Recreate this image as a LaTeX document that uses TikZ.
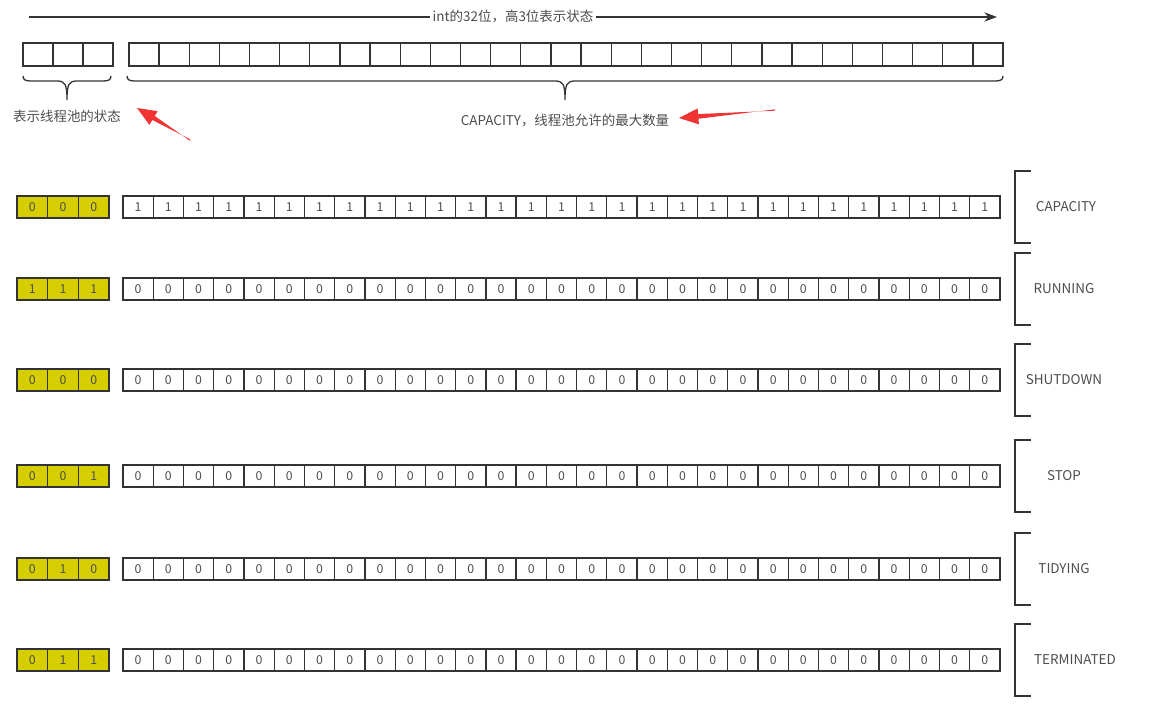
\documentclass[tikz,border=0pt]{standalone}
\usepackage{fontspec}
\setmainfont{Noto Sans CJK SC}
\usetikzlibrary{arrows.meta, calc}
\definecolor{linec}{HTML}{333333}
\definecolor{textc}{HTML}{4D4D4D}
\definecolor{bitfill}{RGB}{214,206,0}
\definecolor{markred}{RGB}{240,52,52}
\tikzset{
  cell/.style={draw=linec, line width=1.1pt, inner sep=0pt, text=textc,
    minimum width=0.907cm, minimum height=0.66cm, font=\fontsize{10.5}{12}\selectfont},
  hcell/.style={cell, fill=bitfill, minimum width=0.92cm},
  tcell/.style={cell, minimum width=0.904cm, minimum height=0.69cm},
  note/.style={text=textc, inner sep=1pt, font=\fontsize{11.5}{13}\selectfont},
  state/.style={note},
  bracket/.style={draw=linec, line width=1.6pt},
  brace/.style={draw=linec, line width=1.1pt},
  toparrow/.style={draw=linec, line width=1pt, -{Stealth[length=0.38cm, width=0.28cm]}},
  pointer/.style={fill=markred},
}
% brace below the cells, from x=#1 to x=#2
\newcommand{\bracebelow}[2]{%
  \draw[brace] (#1,76) .. controls (#1,80) and (#1+3,81) .. (#1+8,81)
    -- ({(#1+#2)/2-10},81) .. controls ({(#1+#2)/2-2},81) and ({(#1+#2)/2},84) .. ({(#1+#2)/2},100)
    .. controls ({(#1+#2)/2},84) and ({(#1+#2)/2+2},81) .. ({(#1+#2)/2+10},81)
    -- (#2-8,81) .. controls (#2-3,81) and (#2,80) .. (#2,76);}
% tapered red pointer from #1 (tail) to #2 (tip)
\newcommand{\redpointer}[2]{%
  \path (#2) coordinate (ph) ($(#2)!0.58cm!(#1)$) coordinate (pb);
  \fill[pointer] ($(#1)!0.02cm!90:(ph)$) -- ($(pb)!0.07cm!-90:(ph)$) -- ($(pb)!0.24cm!-90:(ph)$)
    -- (ph) -- ($(pb)!0.24cm!90:(ph)$) -- ($(pb)!0.07cm!90:(ph)$) -- ($(#1)!0.02cm!-90:(ph)$) -- cycle;}

\begin{document}
\begin{tikzpicture}[x=0.03cm, y=-0.03cm]
  \useasboundingbox (0,0) rectangle (1156,705);

  % 32 bits of the int
  \coordinate (a0) at (29,17);
  \coordinate (a1) at (997,17);
  \draw[toparrow] (a0) -- node[note, fill=white, inner sep=2pt] (title) {int的32位，高3位表示状态} (a1);

  \foreach \i in {0,...,2}
    \node[tcell] (th\i) at ({23+30*(\i+0.5)},54.5) {};
  \foreach \j in {0,...,28}
    \node[tcell] (tl\j) at ({129+30.14*(\j+0.5)},54.5) {};

  \bracebelow{23}{111}
  \bracebelow{127}{1003}

  \node[note] (hdesc) at (67,116) {表示线程池的状态};
  \node[note] (ldesc) at (565,121) {CAPACITY，线程池允许的最大数量};

  \coordinate (p1t) at (190,140);
  \coordinate (p1h) at (137,108);
  \coordinate (p2t) at (775,110);
  \coordinate (p2h) at (679,118);
  \redpointer{p1t}{p1h}
  \redpointer{p2t}{p2h}

  % one row per state
  \foreach \r/\y/\ba/\bb/\bc/\w/\sx/\name in {
      1/207/0/0/0/1/1066/CAPACITY,
      2/289/1/1/1/0/1064/RUNNING,
      3/380/0/0/0/0/1064/SHUTDOWN,
      4/476/0/0/1/0/1064/STOP,
      5/569/0/1/0/0/1064/TIDYING,
      6/660/0/1/1/0/1075/TERMINATED} {
    \foreach \b [count=\i from 0] in {\ba,\bb,\bc}
      \node[hcell] (h\r-\i) at ({17+30.67*(\i+0.5)},\y) {\b};
    \foreach \j in {0,...,28}
      \node[cell] (l\r-\j) at ({123+30.24*(\j+0.5)},\y) {\w};
    \draw[bracket] (1031,\y-36) -- (1015,\y-36) -- (1015,\y+36) -- (1031,\y+36);
    \node[state] (s\r) at (\sx,\y) {\name};
  }
\end{tikzpicture}
\end{document}
